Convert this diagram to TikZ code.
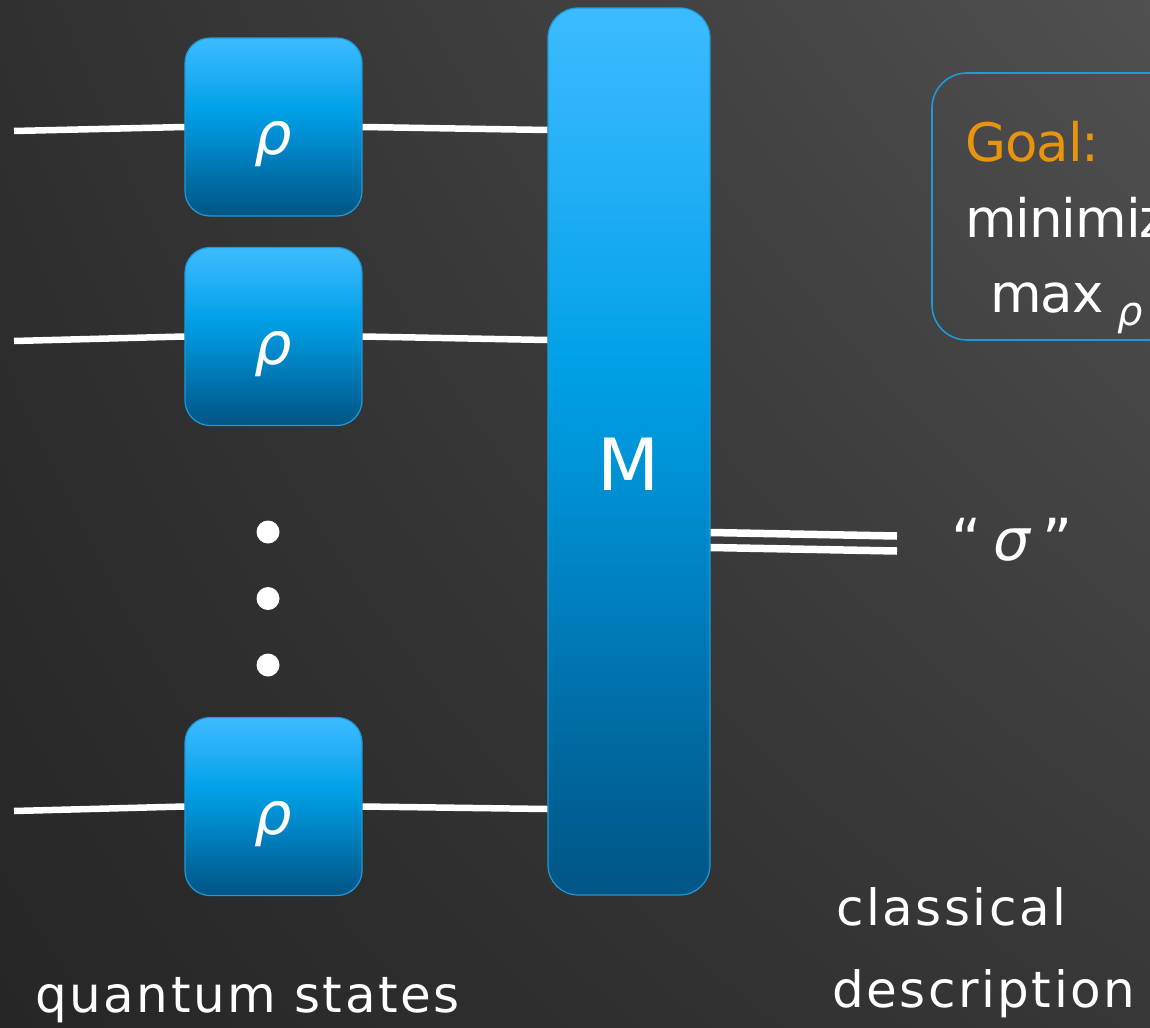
\documentclass[tikz,border=0pt]{standalone}
\usepackage{fontspec}
\usetikzlibrary{shadings}
\setmainfont{DejaVu Sans}
\newfontfamily\labfont[LetterSpace=5]{DejaVu Sans}
\newfontfamily\goalfont[LetterSpace=-2]{DejaVu Sans}
\definecolor{bgTL}{HTML}{303030}
\definecolor{bgTR}{HTML}{505050}
\definecolor{bgBL}{HTML}{262626}
\definecolor{bgBR}{HTML}{373737}
\definecolor{bbot}{HTML}{005585}
\definecolor{bq1}{HTML}{006DA6}
\definecolor{bq2}{HTML}{0088CA}
\definecolor{bq3}{HTML}{00A1E7}
\definecolor{bq4}{HTML}{22AEF5}
\definecolor{btop}{HTML}{3CBBFF}
\definecolor{bedge}{HTML}{1E9AD8}
\definecolor{goalorange}{HTML}{E8940E}
\pgfdeclareverticalshading{boxshade}{100bp}{color(0bp)=(bbot); color(25bp)=(bbot); color(35bp)=(bq1); color(45bp)=(bq2); color(55bp)=(bq3); color(65bp)=(bq4); color(75bp)=(btop); color(100bp)=(btop)}
\tikzset{
  statebox/.style={rectangle, rounded corners=25pt, minimum width=177pt, minimum height=178pt,
    shading=boxshade, draw=bedge, line width=1.2pt, inner sep=0pt, text=white,
    font=\fontsize{59}{59}\selectfont\itshape, text height=56pt, text depth=0pt},
  measbox/.style={rectangle, rounded corners=30pt, minimum width=162pt, minimum height=887pt,
    shading=boxshade, draw=bedge, line width=1.2pt, inner sep=0pt, text=white,
    font=\fontsize{72}{72}\selectfont, text height=78pt, text depth=0pt},
  wire/.style={draw=white, line width=6.5pt, line cap=butt},
  cwire/.style={draw=white, line width=7.5pt, line cap=butt},
  dotnode/.style={circle, fill=white, minimum size=23pt, inner sep=0pt},
  lbl/.style={text=white, inner sep=0pt, font=\labfont\fontsize{50}{50}\selectfont},
  goaltxt/.style={inner sep=0pt, font=\goalfont\fontsize{53}{53}\selectfont},
  goalbox/.style={draw=bedge, line width=1.6pt, rounded corners=35pt}
}
\begin{document}
\begin{tikzpicture}[x=1pt,y=-1pt]
\useasboundingbox (0,0) rectangle (1150,1027);
\clip (0,0) rectangle (1150,1027);
\shade[upper left=bgTL, upper right=bgTR, lower left=bgBL, lower right=bgBR] (0,0) rectangle (1150,1027);

% state boxes
\node[statebox] (r1) at (273.5,127) {ρ};
\node[statebox] (r2) at (273.5,336.5) {ρ};
\node[statebox] (r3) at (273.5,806.5) {ρ};

% measurement
\node[measbox] (M) at (629,451.5) {M};

% wires in
\coordinate (l1) at (14,131);
\coordinate (l2) at (14,341);
\coordinate (l3) at (14,811);
\coordinate (m1) at ([yshift=321.5pt]M.west);
\coordinate (m2) at ([yshift=111.5pt]M.west);
\coordinate (m3) at ([yshift=-357.5pt]M.west);
\draw[wire] (l1) -- (r1.west);
\draw[wire] (r1.east) -- (m1);
\draw[wire] (l2) -- (r2.west);
\draw[wire] (r2.east) -- (m2);
\draw[wire] (l3) -- (r3.west);
\draw[wire] (r3.east) -- (m3);

% dots
\node[dotnode] (d1) at (268,532) {};
\node[dotnode] (d2) at (268,598.5) {};
\node[dotnode] (d3) at (268,665) {};

% classical output
\coordinate (c1a) at ([yshift=-81pt]M.east);
\coordinate (c2a) at ([yshift=-96pt]M.east);
\coordinate (c1b) at (897,536);
\coordinate (c2b) at (897,551);
\draw[cwire] (c1a) -- (c1b);
\draw[cwire] (c2a) -- (c2b);
\node[anchor=base, text=white, inner sep=0pt, font=\fontsize{58}{58}\selectfont] (sig) at (1012,560) {“\hspace{12pt}{\itshape σ}\hspace{12pt}”};

% goal box
\draw[goalbox] (932,73) rectangle (1220,340);
\node[goaltxt, text=goalorange, anchor=base west] (goal) at (965,162) {Goal:};
\node[goaltxt, text=white, anchor=base west] (minz) at (965,237) {minimiz};
\node[goaltxt, text=white, anchor=base west] (maxr) at (990,312) {max\hspace{14pt}\raisebox{-13pt}{\fontsize{40}{40}\selectfont\itshape ρ}};

% labels
\node[lbl, anchor=base west] (qs) at (35,1012) {quantum states};
\node[lbl, anchor=base west] (cl) at (836,925) {classical};
\node[lbl, anchor=base west] (de) at (832,1007) {description};
\end{tikzpicture}
\end{document}
